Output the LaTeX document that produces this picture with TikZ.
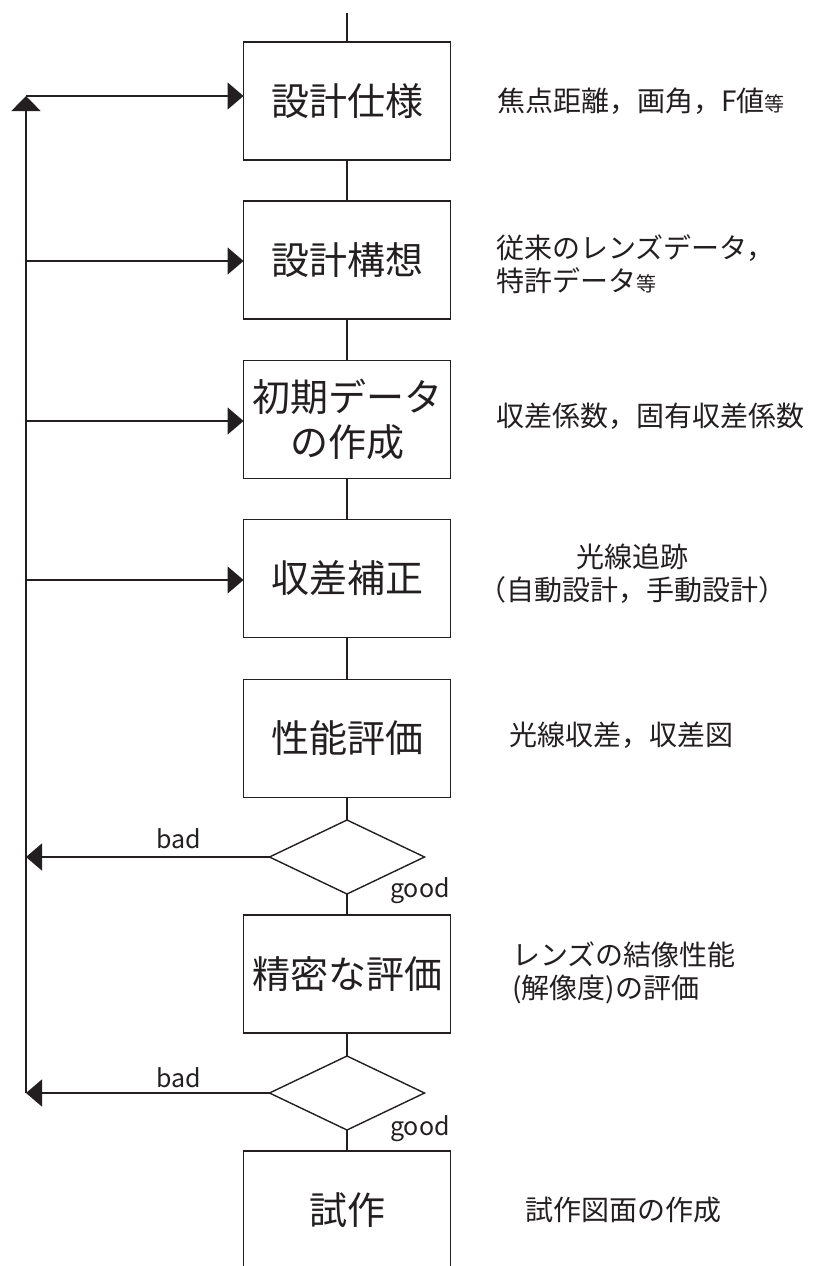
\documentclass[tikz,border=0pt]{standalone}
\usepackage{fontspec}
\setmainfont{Noto Sans CJK JP}
\usetikzlibrary{arrows.meta,shapes.geometric}
\definecolor{ink}{RGB}{35,31,32}
\tikzset{
  box/.style={draw=ink, line width=1.6pt, minimum width=207pt, minimum height=118pt,
    inner sep=0pt, outer sep=0pt, align=center, text=ink, font=\fontsize{38}{45}\selectfont},
  dia/.style={draw=ink, line width=1.4pt, shape=diamond, aspect=2.09, minimum width=155pt,
    minimum height=74pt, inner sep=0pt, outer sep=0pt},
  ln/.style={draw=ink, line width=1.4pt},
  rarr/.style={ln, -{Triangle[length=16pt,width=27pt]}},
  uarr/.style={ln, -{Triangle[length=15pt,width=29pt]}},
  lbl/.style={text=ink, font=\fontsize{25}{30}\selectfont, inner sep=0pt},
  note/.style={text=ink, font=\fontsize{28}{33}\selectfont, inner sep=0pt},
}
\begin{document}
\begin{tikzpicture}[x=1pt,y=-1pt]
\useasboundingbox (0,0) rectangle (815,1266);
\clip (0,0) rectangle (815,1266);
% boxes
\node[box] (b1) at (347,101) {設計仕様};
\node[box] (b2) at (347,260) {設計構想};
\node[box] (b3) at (347,419.5) {初期データ\\の作成};
\node[box] (b4) at (347,578.5) {収差補正};
\node[box] (b5) at (347,738.5) {性能評価};
\node[dia] (d1) at (347,857) {};
\node[box] (b6) at (347,974) {精密な評価};
\node[dia] (d2) at (347,1093) {};
\node[box] (b7) at (347,1210) {試作};
% main line
\coordinate (top) at (347,13);
\draw[ln] (top) -- (b1);
\draw[ln] (b1) -- (b2);
\draw[ln] (b2) -- (b3);
\draw[ln] (b3) -- (b4);
\draw[ln] (b4) -- (b5);
\draw[ln] (b5) -- (d1);
\draw[ln] (d1) -- (b6);
\draw[ln] (b6) -- (d2);
\draw[ln] (d2) -- (b7);
% feedback
\coordinate (Ltop) at (26,96);
\coordinate (L2) at (26,261);
\coordinate (L3) at (26,421);
\coordinate (L4) at (26,580);
\coordinate (Lbot) at (26,1093);
\draw[uarr] (Lbot) -- (Ltop);
\draw[rarr] (Ltop) -- (Ltop -| b1.west);
\draw[rarr] (L2) -- (L2 -| b2.west);
\draw[rarr] (L3) -- (L3 -| b3.west);
\draw[rarr] (L4) -- (L4 -| b4.west);
\draw[rarr] (d1.west) -- (d1.west -| Lbot);
\draw[rarr] (d2.west) -- (Lbot);
% labels
\node[lbl, anchor=base] (bad1) at (179,848) {bad};
\node[lbl, anchor=base] (good1) at (420,897) {good};
\node[lbl, anchor=base] (bad2) at (179,1087) {bad};
\node[lbl, anchor=base] (good2) at (420,1135) {good};
% notes
\node[note, anchor=west] (n1) at (497,101) {焦点距離，画角，F値{\fontsize{20}{20}\selectfont 等}};
\node[note, anchor=west, align=left] (n2) at (496,264) {従来のレンズデータ，\\特許データ{\fontsize{20}{20}\selectfont 等}};
\node[note, anchor=west] (n3) at (496,416) {収差係数，固有収差係数};
\node[note, align=center] (n4) at (632,574) {光線追跡\\（自動設計，手動設計）};
\node[note, anchor=west] (n5) at (509,735) {光線収差，収差図};
\node[note, anchor=west, align=left] (n6) at (512,973) {レンズの結像性能\\(解像度)の評価};
\node[note, anchor=west] (n7) at (525,1210) {試作図面の作成};
\end{tikzpicture}
\end{document}
